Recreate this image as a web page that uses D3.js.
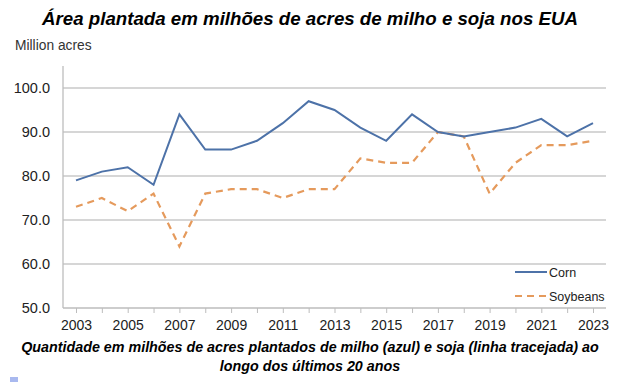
<!DOCTYPE html>
<html>
<head>
<meta charset="UTF-8">
<title>Área plantada milho e soja</title>
<script src="https://d3js.org/d3.v7.min.js"></script>
<style>
  body { margin: 0; background: #fff; }
  svg text { font-family: "Liberation Sans", Arial, sans-serif; }
</style>
</head>
<body>
<svg id="viz" width="621" height="382"></svg>
<script>
// data
var years = d3.range(2003, 2024);
var corn = [79, 81, 82, 78, 94, 86, 86, 88, 92, 97, 95, 91, 88, 94, 90, 89, 90, 91, 93, 89, 92];
var soybeans = [73, 75, 72, 76, 64, 76, 77, 77, 75, 77, 77, 84, 83, 83, 90, 89, 76, 83, 87, 87, 88];
var yTicks = [50, 60, 70, 80, 90, 100];
var xLabels = [2003, 2005, 2007, 2009, 2011, 2013, 2015, 2017, 2019, 2021, 2023];

var svg = d3.select("#viz");

var x = d3.scaleLinear().domain([2003, 2023]).range([76, 593]);
var y = d3.scaleLinear().domain([50, 100]).range([308, 88]);

// title
svg.append("text")
  .attr("x", 310).attr("y", 25)
  .attr("text-anchor", "middle")
  .style("font-size", "18.7px").style("font-weight", "bold").style("font-style", "italic")
  .attr("fill", "#000")
  .text("Área plantada em milhões de acres de milho e soja nos EUA");

svg.append("text")
  .attr("x", 15).attr("y", 50)
  .style("font-size", "13.8px").attr("fill", "#333")
  .text("Million acres");

// gridlines
svg.append("g").selectAll("line")
  .data(yTicks.slice(1))
  .enter().append("line")
  .attr("x1", 63).attr("x2", 606)
  .attr("y1", function(d) { return y(d); })
  .attr("y2", function(d) { return y(d); })
  .attr("stroke", "#c9c9c9").attr("stroke-width", 1.3);

// y axis
var yAxis = svg.append("g")
  .attr("transform", "translate(63,0)")
  .call(d3.axisLeft(y).tickValues(yTicks).tickSize(0).tickPadding(13).tickFormat(d3.format(".1f")));
yAxis.select(".domain").remove();
yAxis.selectAll("text").style("font-size", "14.5px").attr("fill", "#222").attr("font-family", null);
svg.append("line").attr("x1", 63).attr("x2", 63).attr("y1", 66).attr("y2", 308)
  .attr("stroke", "#bdbdbd").attr("stroke-width", 1.3);

// x axis
var xAxis = svg.append("g")
  .attr("transform", "translate(0,308)")
  .call(d3.axisBottom(x).tickValues(years).tickSize(5).tickPadding(7).tickSizeOuter(0)
    .tickFormat(function(d) { return xLabels.indexOf(d) >= 0 ? d : ""; }));
xAxis.select(".domain").attr("d", "M63,0H606").attr("stroke", "#bdbdbd").attr("stroke-width", 1.3);
xAxis.selectAll("line").attr("stroke", "#bdbdbd");
xAxis.selectAll("text").style("font-size", "14px").attr("fill", "#222").attr("font-family", null);

// lines
var line = d3.line()
  .x(function(d, i) { return x(years[i]); })
  .y(function(d) { return y(d); });

svg.append("path").datum(soybeans)
  .attr("d", line).attr("fill", "none")
  .attr("stroke", "#e59a5c").attr("stroke-width", 2.2)
  .attr("stroke-dasharray", "7,5");

svg.append("path").datum(corn)
  .attr("d", line).attr("fill", "none")
  .attr("stroke", "#4d72a8").attr("stroke-width", 2);

// legend
var legend = svg.append("g");
legend.append("line").attr("x1", 515).attr("x2", 547).attr("y1", 272).attr("y2", 272)
  .attr("stroke", "#4d72a8").attr("stroke-width", 2);
legend.append("text").attr("x", 549).attr("y", 276.5).style("font-size", "12.5px").attr("fill", "#222").text("Corn");
legend.append("line").attr("x1", 515).attr("x2", 547).attr("y1", 296).attr("y2", 296)
  .attr("stroke", "#e59a5c").attr("stroke-width", 2.2).attr("stroke-dasharray", "7,5");
legend.append("text").attr("x", 549).attr("y", 300.5).style("font-size", "12.5px").attr("fill", "#222").text("Soybeans");

// caption
var caption = ["Quantidade em milhões de acres plantados de milho (azul) e soja (linha tracejada) ao",
               "longo dos últimos 20 anos"];
svg.append("g").selectAll("text")
  .data(caption)
  .enter().append("text")
  .attr("x", 310).attr("y", function(d, i) { return 352 + i * 19; })
  .attr("text-anchor", "middle")
  .style("font-size", "14.3px").style("font-weight", "bold").style("font-style", "italic")
  .attr("fill", "#000")
  .text(function(d) { return d; });

svg.append("rect").attr("x", 10).attr("y", 377).attr("width", 8).attr("height", 5).attr("fill", "#a9b9ef");
</script>
</body>
</html>
